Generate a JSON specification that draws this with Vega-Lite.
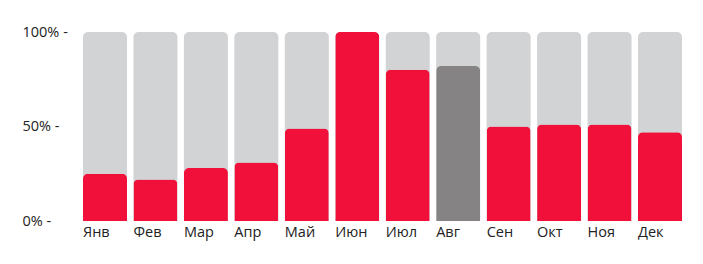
{
  "$schema": "https://vega.github.io/schema/vega-lite/v6.json",
  "autosize": {"type": "none"},
  "padding": {"left": 83, "top": 32, "right": 21, "bottom": 43},
  "width": 599,
  "height": 189,
  "background": "white",
  "data": {"values": [
    {"month": "Янв", "value": 25},
    {"month": "Фев", "value": 22},
    {"month": "Мар", "value": 28},
    {"month": "Апр", "value": 31},
    {"month": "Май", "value": 49},
    {"month": "Июн", "value": 100},
    {"month": "Июл", "value": 80},
    {"month": "Авг", "value": 82},
    {"month": "Сен", "value": 50},
    {"month": "Окт", "value": 51},
    {"month": "Ноя", "value": 51},
    {"month": "Дек", "value": 47}
  ]},
  "config": {
    "view": {"stroke": null},
    "font": "Open Sans",
    "axis": {"labelFont": "Open Sans", "labelFontSize": 14.5, "labelColor": "#222222", "grid": false, "domain": false, "ticks": false, "title": null, "labelOverlap": false, "labelFlush": false}
  },
  "encoding": {
    "x": {
      "field": "month", "type": "nominal", "sort": null,
      "scale": {"paddingInner": 0.128, "paddingOuter": 0},
      "axis": {"labelAlign": "left", "labelAngle": 0, "labelOffset": -22, "labelPadding": 4, "labelBaseline": "top"}
    }
  },
  "layer": [
    {
      "mark": {"type": "bar", "color": "#d1d3d5", "cornerRadiusTopLeft": 5, "cornerRadiusTopRight": 5},
      "encoding": {
        "y": {"datum": 100, "type": "quantitative", "scale": {"domain": [0, 100]},
          "axis": {"values": [0, 50, 100], "labelExpr": "datum.value + '% -'", "labelAlign": "left", "labelPadding": 61, "labelBaseline": "middle"}}
      }
    },
    {
      "mark": {"type": "bar", "cornerRadiusTopLeft": 5, "cornerRadiusTopRight": 5},
      "encoding": {
        "y": {"field": "value", "type": "quantitative"},
        "color": {"condition": {"test": "datum.month === 'Авг'", "value": "#858384"}, "value": "#f0103a"}
      }
    }
  ]
}
